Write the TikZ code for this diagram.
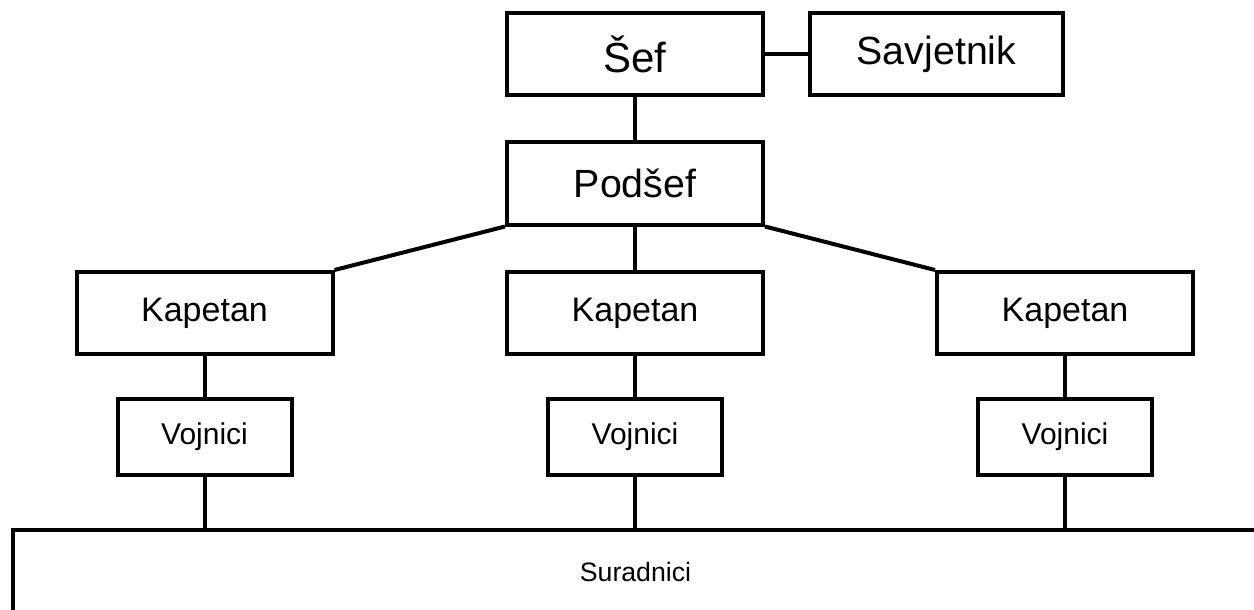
\documentclass[tikz,border=0pt]{standalone}
\usepackage{fontspec}
\setmainfont{Liberation Sans}
\tikzset{
  box/.style={draw, line width=3pt, inner sep=0pt, minimum width=192pt, minimum height=61.5pt},
  link/.style={line width=3pt},
  fbig/.style={font=\fontsize{31.5}{36}\selectfont},
  fmid/.style={font=\fontsize{29.5}{34}\selectfont},
  fkap/.style={font=\fontsize{25.5}{30}\selectfont},
  fvoj/.style={font=\fontsize{22.5}{26}\selectfont},
  fsur/.style={font=\fontsize{20}{24}\selectfont}
}

\begin{document}
\begin{tikzpicture}[x=0.75pt,y=-0.75pt]
\useasboundingbox (0,0) rectangle (1254,610);
\node[box, fbig] (sef) at (635,54) {Šef};
\node[box, fmid, minimum width=189.75pt] (savjetnik) at (936.5,54) {Savjetnik};
\node[box, fmid] (podsef) at (635,183.5) {Podšef};
\foreach \x/\n in {204.5/1, 635/2, 1065/3} {
  \node[box, fkap] (kap\n) at (\x,313) {Kapetan};
  \node[box, fvoj, minimum width=130.5pt, minimum height=57pt] (voj\n) at (\x,437) {Vojnici};
}
% Suradnici runs off the right and bottom edges
\node[box, fsur, minimum width=933.75pt, minimum height=63pt] (suradnici) at (635.5,572) {Suradnici};
\draw[link] (sef) -- (savjetnik);
\draw[link] (sef) -- (podsef);
\draw[link] (podsef.south west) -- (kap1.north east);
\draw[link] (podsef) -- (kap2);
\draw[link] (podsef.south east) -- (kap3.north west);
\foreach \n in {1,2,3} {
  \draw[link] (kap\n) -- (voj\n);
  \draw[link] (voj\n) -- (voj\n |- suradnici.north);
}
\end{tikzpicture}
\end{document}
